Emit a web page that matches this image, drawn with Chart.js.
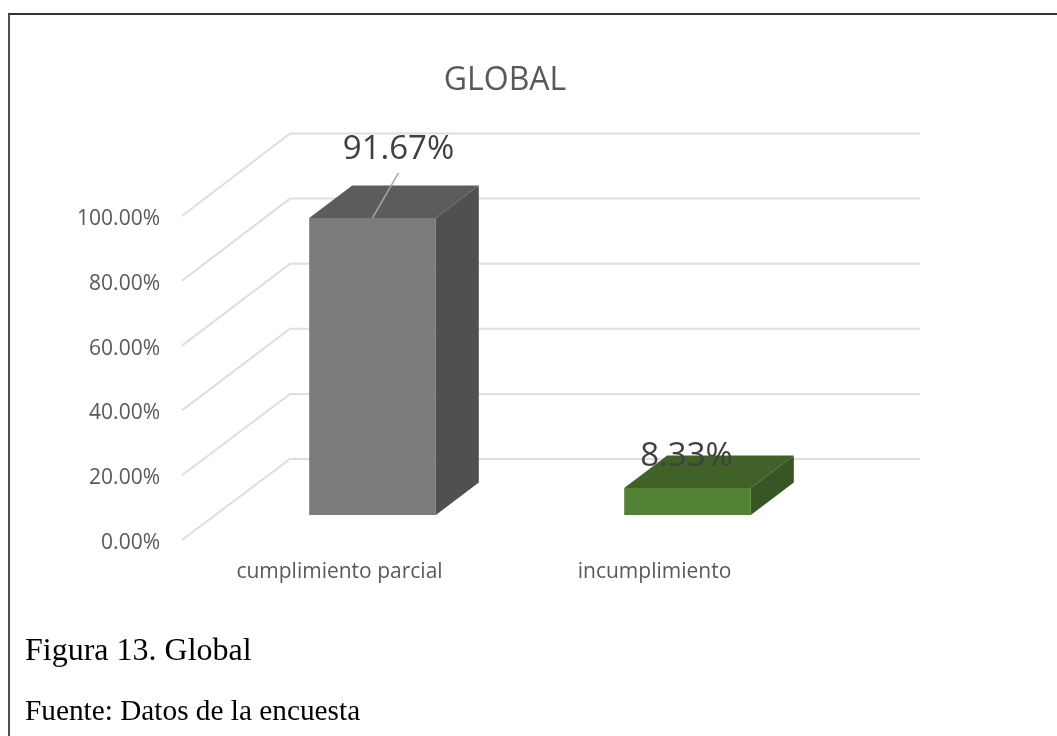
<!DOCTYPE html>
<html lang="es">
<head>
    <meta charset="UTF-8">
    <title>Figura 13. Global</title>
    <script src="https://cdn.jsdelivr.net/npm/chart.js"></script>
    <style>
        html, body { margin: 0; padding: 0; background: #fff; overflow: hidden; }
        body { width: 1057px; height: 736px; position: relative; }
        canvas { position: absolute; left: 0; top: 0; }
        .frame { position: absolute; left: 8px; top: 13px; right: -10px; bottom: -10px;
                 border-left: 2px solid #4d4d4d; border-top: 2px solid #333; }
        .caption { position: absolute; left: 25px; font-family: "Liberation Serif", serif; color: #000; white-space: nowrap; }
    </style>
</head>
<body>
    <canvas id="globalChart" width="1057" height="736"></canvas>
    <div class="frame"></div>
    <div class="caption" style="top:631px;font-size:32px">Figura 13. Global</div>
    <div class="caption" style="top:694px;font-size:29.3px">Fuente: Datos de la encuesta</div>

    <script>
        const categories = ['cumplimiento parcial', 'incumplimiento'];
        const percentages = [91.67, 8.33];
        const frontColors = ['#7b7b7b', '#548235'];
        const topColors = ['#5c5c5c', '#406128'];
        const sideColors = ['#505050', '#375623'];

        const sansFont = '"Open Sans", sans-serif';
        const depthX = 43;
        const depthY = 32.5;

        // back wall, side lines and bar depth faces
        const boxPlugin = {
            id: 'box3d',
            // the title sits over the whole drawing, not just the plot area
            afterLayout(chart) {
                chart.titleBlock.left = 165;
            },
            beforeDatasetsDraw(chart) {
                const { ctx, scales: { y }, chartArea } = chart;
                const frontX = chartArea.left - 33;
                const backX = chartArea.left + 75;
                const wallRight = chartArea.right + 75;

                ctx.save();
                ctx.strokeStyle = '#dedede';
                ctx.lineWidth = 2;
                y.ticks.forEach(tick => {
                    const py = y.getPixelForValue(tick.value);
                    const backY = 459 - (y.bottom - py) * 1.0046;
                    ctx.beginPath();
                    ctx.moveTo(frontX, py + 25);
                    ctx.lineTo(backX, backY);
                    ctx.lineTo(wallRight, backY);
                    ctx.stroke();
                });

                chart.getDatasetMeta(0).data.forEach((bar, i) => {
                    const left = bar.x - bar.width / 2;
                    const right = bar.x + bar.width / 2;

                    ctx.fillStyle = topColors[i];
                    ctx.beginPath();
                    ctx.moveTo(left, bar.y);
                    ctx.lineTo(left + depthX, bar.y - depthY);
                    ctx.lineTo(right + depthX, bar.y - depthY);
                    ctx.lineTo(right, bar.y);
                    ctx.closePath();
                    ctx.fill();

                    ctx.fillStyle = sideColors[i];
                    ctx.beginPath();
                    ctx.moveTo(right, bar.y);
                    ctx.lineTo(right + depthX, bar.y - depthY);
                    ctx.lineTo(right + depthX, bar.base - depthY);
                    ctx.lineTo(right, bar.base);
                    ctx.closePath();
                    ctx.fill();
                });
                ctx.restore();
            },
            // value labels, the tall bar gets a leader line
            afterDatasetsDraw(chart) {
                const { ctx } = chart;
                const bars = chart.getDatasetMeta(0).data;
                ctx.save();
                ctx.strokeStyle = '#a6a6a6';
                ctx.lineWidth = 1.5;
                ctx.beginPath();
                ctx.moveTo(bars[0].x, bars[0].y);
                ctx.lineTo(bars[0].x + 26, bars[0].y - 45);
                ctx.stroke();

                ctx.font = '33px ' + sansFont;
                ctx.fillStyle = '#404040';
                ctx.textAlign = 'center';
                ctx.textBaseline = 'middle';
                ctx.fillText(percentages[0].toFixed(2) + '%', bars[0].x + 26, bars[0].y - 68);
                ctx.fillText(percentages[1].toFixed(2) + '%', bars[1].x - 1, bars[1].y - 31);
                ctx.restore();
            }
        };

        new Chart(document.getElementById('globalChart'), {
            type: 'bar',
            data: {
                labels: categories,
                datasets: [{
                    data: percentages,
                    backgroundColor: frontColors,
                    borderWidth: 0,
                    barPercentage: 0.402,
                    categoryPercentage: 1
                }]
            },
            plugins: [boxPlugin],
            options: {
                responsive: false,
                animation: false,
                layout: { padding: { left: 0, right: 212, top: 0, bottom: 0 } },
                plugins: {
                    legend: { display: false },
                    tooltip: { enabled: false },
                    title: {
                        display: true,
                        text: 'GLOBAL',
                        color: '#595959',
                        font: { family: sansFont, size: 32, weight: 'normal' },
                        padding: { top: 62, bottom: 90.6 }
                    }
                },
                scales: {
                    x: {
                        grid: { display: false, drawTicks: false },
                        border: { display: false },
                        afterFit(scale) { scale.height = 221; },
                        ticks: {
                            color: '#595959',
                            font: { family: sansFont, size: 21 },
                            padding: 44,
                            labelOffset: -33,
                            autoSkip: false,
                            maxRotation: 0
                        }
                    },
                    y: {
                        min: 0,
                        max: 100,
                        grid: { display: false, drawTicks: false },
                        border: { display: false },
                        afterFit(scale) { scale.width = 215; },
                        ticks: {
                            stepSize: 20,
                            color: '#595959',
                            font: { family: sansFont, size: 21 },
                            padding: 55,
                            labelOffset: 28,
                            callback: value => value.toFixed(2) + '%'
                        }
                    }
                }
            }
        });
    </script>
</body>
</html>
